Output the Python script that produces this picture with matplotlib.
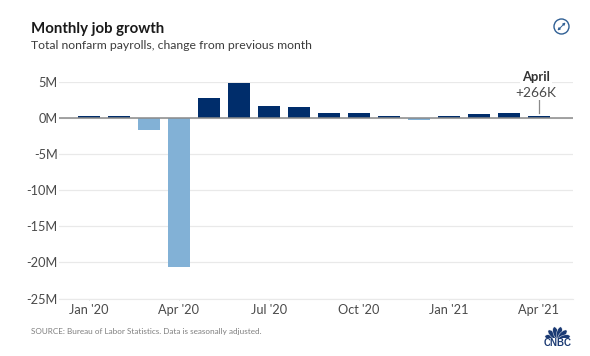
import numpy as np
import matplotlib
matplotlib.use("Agg")
import matplotlib.pyplot as plt
from matplotlib.patches import Circle, Ellipse

plt.rcParams["font.family"] = ["Lato", "DejaVu Sans"]

W, H = 590, 356
TITLE = "Monthly job growth"
SUBTITLE = "Total nonfarm payrolls, change from previous month"
SOURCE = "SOURCE: Bureau of Labor Statistics. Data is seasonally adjusted."

months = ["Jan '20", "Feb '20", "Mar '20", "Apr '20", "May '20", "Jun '20", "Jul '20", "Aug '20",
          "Sep '20", "Oct '20", "Nov '20", "Dec '20", "Jan '21", "Feb '21", "Mar '21", "Apr '21"]
change_m = [0.3, 0.27, -1.7, -20.7, 2.8, 4.8, 1.7, 1.6,
            0.7, 0.65, 0.25, -0.3, 0.25, 0.55, 0.77, 0.266]
y_ticks = [5, 0, -5, -10, -15, -20, -25]
y_labels = ["5M", "0M", "-5M", "-10M", "-15M", "-20M", "-25M"]
x_tick_months = ["Jan '20", "Apr '20", "Jul '20", "Oct '20", "Jan '21", "Apr '21"]

DARK = "#002d6b"
LIGHT = "#82b1d6"
GRID = "#e9e9e9"
TEXT = "#4a4a4a"

fig = plt.figure(figsize=(W / 100, H / 100), dpi=100, facecolor="white")

# plot area placed in pixels: x 59-573, y 82-298.5
ax = fig.add_axes([59 / W, 1 - 298.5 / H, (573 - 59) / W, (298.5 - 82) / H])
x = np.arange(len(months))
colors = [DARK if v >= 0 else LIGHT for v in change_m]
ax.bar(x, change_m, width=0.73, color=colors, zorder=3)
ax.set_xlim(-0.99, 16.14)
ax.set_ylim(-25, 5)

ax.set_yticks(y_ticks)
ax.set_yticklabels(y_labels, fontsize=9.2, color=TEXT)
ax.set_xticks([months.index(m) for m in x_tick_months])
ax.set_xticklabels(x_tick_months, fontsize=9.2, color=TEXT)
ax.tick_params(axis="y", length=0, pad=1)
ax.tick_params(axis="x", length=1, width=0.6, color="#cccccc", pad=3)
ax.grid(axis="y", color=GRID, linewidth=0.9, zorder=0)
for s in ["top", "left", "right"]:
    ax.spines[s].set_visible(False)
ax.spines["bottom"].set_color(GRID)
ax.axhline(0, color="#8a8a8a", linewidth=1.1, zorder=4)

# callout for the last month
last = len(months) - 1
ax.plot([last, last], [change_m[last] + 0.5, 2.47], color="#8a8a8a", linewidth=0.9, zorder=4)
ax.text(last - 0.09, 3.5, "+266K", ha="center", va="center", fontsize=9.8, color=TEXT, zorder=5,
        bbox=dict(facecolor="white", edgecolor="none", pad=0.5))
ax.text(last - 0.09, 5.7, "April", ha="center", va="center", fontsize=9.4, color="#333333",
        fontweight="bold", zorder=5, bbox=dict(facecolor="white", edgecolor="none", pad=1.5))

# overlay in pixel coordinates for the header, footer and icons
ov = fig.add_axes([0, 0, 1, 1], facecolor="none")
ov.set_xlim(0, W)
ov.set_ylim(H, 0)
ov.axis("off")
ov.text(31, 29, TITLE, fontsize=10.8, fontweight="bold", color="#1a1a1a", va="center")
ov.text(31, 45.5, SUBTITLE, fontsize=8.85, color="#3c3c3c", va="center")
ov.text(31, 331.5, SOURCE, fontsize=5.9, color="#7f7f7f", va="center")

# expand icon
ov.add_patch(Circle((561.5, 26.5), 7.5, facecolor="none", edgecolor="#2f5f94", linewidth=1))
ov.annotate("", xy=(565.5, 22.5), xytext=(557.5, 30.5),
            arrowprops=dict(arrowstyle="<|-|>", color="#2f5f94", lw=0.7, mutation_scale=3.5, shrinkA=0, shrinkB=0))

# peacock logo
LOGO = "#1b3a73"
for ang in [-75, -45, -15, 15, 45, 75]:
    a = np.radians(ang)
    ov.add_patch(Ellipse((557.5 + 7 * np.sin(a), 339.5 - 7 * np.cos(a)), 5.2, 12, angle=ang,
                         facecolor=LOGO, edgecolor="white", linewidth=0.3))
ov.text(557.5, 342.8, "CNBC", fontsize=7, fontweight="bold", color=LOGO, ha="center", va="center",
        family=["Liberation Sans", "DejaVu Sans"], zorder=5,
        bbox=dict(facecolor="white", edgecolor="none", pad=0.2))

fig.savefig("out.png", dpi=100)
